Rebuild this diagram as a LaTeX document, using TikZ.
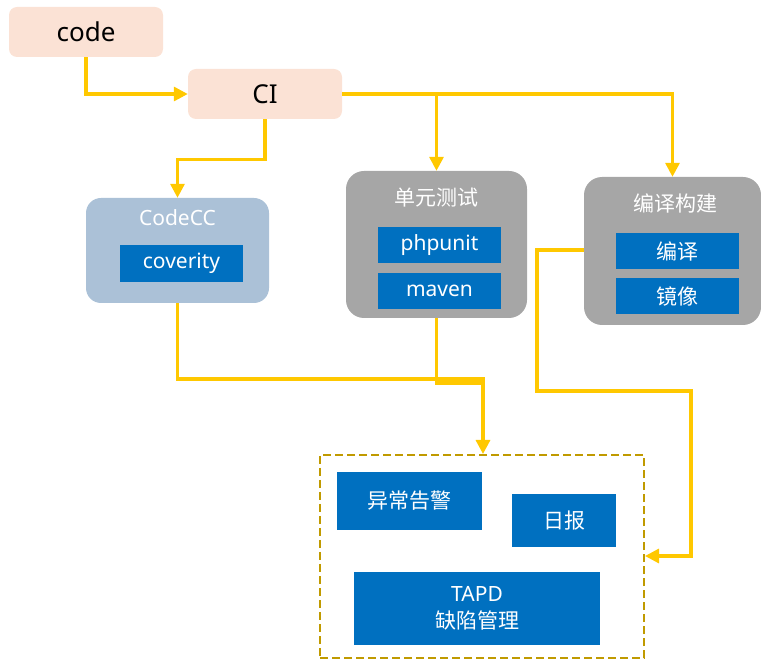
\documentclass[tikz,border=0pt]{standalone}
\usepackage{fontspec}
\setmainfont{Noto Sans}
\newfontfamily\cjk{Noto Sans CJK SC}
\usetikzlibrary{arrows.meta}
\definecolor{peach}{HTML}{FBE2D5}
\definecolor{steel}{HTML}{ABC1D7}
\definecolor{greybox}{HTML}{A6A6A6}
\definecolor{bluebox}{HTML}{0070C0}
\definecolor{goldline}{HTML}{FFC800}
\definecolor{dashgold}{HTML}{C09A00}
\tikzset{
  startbox/.style={draw=none, fill=peach, rounded corners=8pt, minimum width=154pt, minimum height=50pt, inner sep=0pt, font=\fontsize{26}{30}\selectfont},
  groupbox/.style={draw=none, rounded corners=18pt, inner sep=0pt},
  toolbox/.style={draw=none, fill=bluebox, text=white, inner sep=0pt, font=\fontsize{21}{25}\selectfont},
  titletext/.style={text=white, inner sep=0pt, font=\fontsize{21}{25}\selectfont},
  cjktext/.style={font=\cjk\fontsize{21}{25}\selectfont},
  flow/.style={draw=goldline, line width=3.2pt, -{Triangle[width=14pt,length=14pt]}},
  flowplain/.style={draw=goldline, line width=3.2pt},
}
\begin{document}
\begin{tikzpicture}[x=1pt,y=-1pt]
\useasboundingbox (0,0) rectangle (761,660);
% start nodes
\node[startbox] (code) at (86,32) {code};
\node[startbox] (ci) at (265,94) {CI};
% CodeCC
\node[groupbox, fill=steel, rounded corners=15pt, minimum width=183pt, minimum height=105pt] (codecc) at (177.5,250.5) {};
\node[titletext] (codecctitle) at (177.5,218) {CodeCC};
\node[toolbox, minimum width=123pt, minimum height=37pt] (coverity) at (181.5,263.5) {coverity};
% unit test
\node[groupbox, fill=greybox, minimum width=181pt, minimum height=147pt] (unit) at (436.5,244.5) {};
\node[titletext, cjktext] (unittitle) at (436.5,198) {单元测试};
\node[toolbox, minimum width=123pt, minimum height=36pt] (phpunit) at (439.5,245) {phpunit};
\node[toolbox, minimum width=123pt, minimum height=36pt] (maven) at (439.5,291) {maven};
% build
\node[groupbox, fill=greybox, minimum width=177pt, minimum height=148pt] (build) at (672.5,251) {};
\node[titletext, cjktext] (buildtitle) at (675,203) {编译构建};
\node[toolbox, cjktext, minimum width=123pt, minimum height=36pt] (compile) at (677.5,251) {编译};
\node[toolbox, cjktext, minimum width=123pt, minimum height=36pt] (image) at (677.5,296) {镜像};
% report area
\node[draw=dashgold, line width=2pt, dash pattern=on 8pt off 4pt, minimum width=324pt, minimum height=203pt, inner sep=0pt] (report) at (482,556.5) {};
\node[toolbox, cjktext, minimum width=145pt, minimum height=58pt] (alarm) at (409.5,501) {异常告警};
\node[toolbox, cjktext, minimum width=104pt, minimum height=53pt] (daily) at (564,520.5) {日报};
\node[toolbox, font=\fontsize{21}{27}\selectfont, align=center, minimum width=246pt, minimum height=73pt] (tapd) at (477,608.5) {TAPD\\{\cjk 缺陷管理}};
% connectors
\draw[flow] (code.south) |- (ci.west);
\draw[flow] (ci.south) -- ++(0,40) -| (codecc.north);
\draw[flow] (ci.east) -| (build.north);
\draw[flow] (ci.east -| unit.north) -- (unit.north);
\coordinate (mergea) at (483,379);
\draw[flowplain] (unit.south) |- (483,383);
\draw[flow] (codecc.south) |- (mergea) -- (report.north -| mergea);
\coordinate (bendb) at (537,250);
\coordinate (bendc) at (691,391);
\draw[flow] (build.west |- bendb) -- (bendb) |- (bendc) |- (report.east |- 0,556);
\end{tikzpicture}
\end{document}
